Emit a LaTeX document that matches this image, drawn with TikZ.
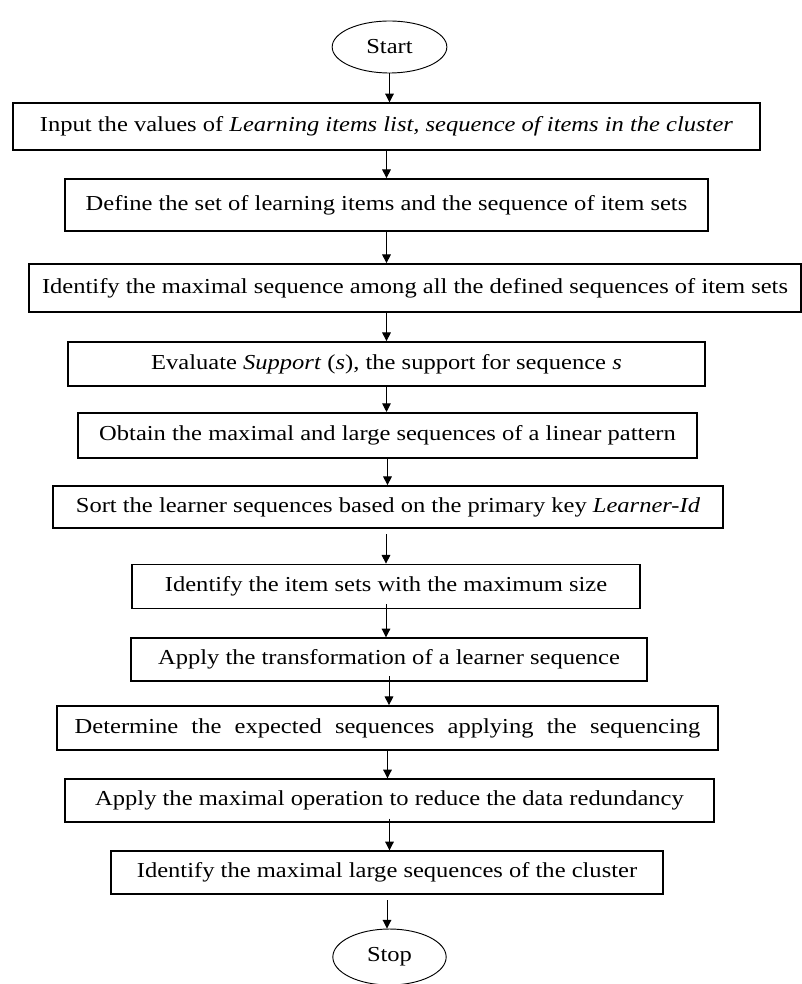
\documentclass[tikz,border=0pt]{standalone}
\usepackage{fontspec}
\usepackage{graphicx}
\setmainfont{Liberation Serif}
\usetikzlibrary{arrows.meta,shapes.geometric}
% step labels are set a little wide
\newcommand{\wide}[1]{\scalebox{1.15}[1]{#1}}
\tikzset{
  stepbox/.style={draw, line width=1.3pt, inner sep=0pt, align=center,
    font=\fontsize{16pt}{19pt}\selectfont},
  term/.style={draw, ellipse, line width=0.7pt, inner sep=0pt,
    font=\fontsize{16pt}{19pt}\selectfont},
  arr/.style={line width=0.7pt, -{Triangle[length=6.5pt,width=6.5pt]}}
}
\begin{document}
\begin{tikzpicture}[x=0.75pt, y=-0.75pt]
\useasboundingbox (0,0) rectangle (801,984);

\node[term, minimum width=86pt, minimum height=39pt] (start) at (389.5,47) {\wide{Start}};

\node[stepbox, minimum width=560pt, minimum height=35pt] (b1) at (386.5,126.5)
  {\wide{Input the values of \textit{Learning items list, sequence of items in the cluster}}};
\node[stepbox, minimum width=482pt, minimum height=39pt] (b2) at (386.5,205)
  {\wide{Define the set of learning items and the sequence of item sets}};
\node[stepbox, minimum width=579pt, minimum height=36pt] (b3) at (415,288)
  {\wide{Identify the maximal sequence among all the defined sequences of item sets}};
\node[stepbox, minimum width=478pt, minimum height=33pt] (b4) at (386.5,364)
  {\wide{Evaluate \textit{Support} (\textit{s}), the support for sequence \textit{s}}};
\node[stepbox, minimum width=464pt, minimum height=34pt] (b5) at (387.5,435.5)
  {\wide{Obtain the maximal and large sequences of a linear pattern}};
\node[stepbox, minimum width=502pt, minimum height=31.5pt] (b6) at (388,507)
  {\wide{Sort the learner sequences based on the primary key \textit{Learner-Id}}};
\node[stepbox, minimum width=381pt, minimum height=33pt] (b7) at (386,586.5)
  {\wide{Identify the item sets with the maximum size}};
\node[stepbox, minimum width=387pt, minimum height=32pt] (b8) at (389,659.5)
  {\wide{Apply the transformation of a learner sequence}};
\node[stepbox, minimum width=496pt, minimum height=33pt] (b9) at (387.5,728)
  {\wide{\makebox[408pt][s]{Determine the expected sequences applying the sequencing}}};
\node[stepbox, minimum width=487pt, minimum height=32pt] (b10) at (389.5,800.5)
  {\wide{Apply the maximal operation to reduce the data redundancy}};
\node[stepbox, minimum width=414pt, minimum height=32pt] (b11) at (387,872.5)
  {\wide{Identify the maximal large sequences of the cluster}};

\node[term, minimum width=85pt, minimum height=42pt] (stop) at (389.5,957) {\wide{Stop}};

% connectors, straight down from each step to the next
\draw[arr] (start.south) -- (start.south |- b1.north);
\draw[arr] (b1.south) -- (b1.south |- b2.north);
\draw[arr] (b2.south) -- (b2.south |- b3.north);
\draw[arr] (b2.south |- b3.south) -- (b2.south |- b4.north);
\draw[arr] (b4.south) -- (b4.south |- b5.north);
\draw[arr] (b5.south) -- (b5.south |- b6.north);
\draw[arr] ([yshift=-4pt]b6.south -| b7.south) -- (b7.north);
\draw[arr] ([yshift=4pt]b7.south) -- (b7.south |- b8.north);
\draw[arr] ([yshift=4pt]b8.south) -- (b8.south |- b9.north);
\draw[arr] (b9.south) -- (b9.south |- b10.north);
\draw[arr] ([yshift=3pt]b10.south) -- (b10.south |- b11.north);
\draw[arr] ([yshift=-4pt]b11.south) -- (b11.south |- stop.north);
\end{tikzpicture}
\end{document}
